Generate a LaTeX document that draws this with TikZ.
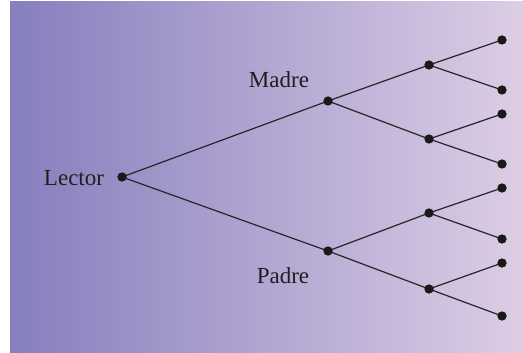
\documentclass[tikz,border=0pt]{standalone}
\usepackage{fontspec}
\setmainfont{Liberation Serif}
\begin{document}
\begin{tikzpicture}[x=1pt,y=-1pt,
  dot/.style={circle,fill=black!90,inner sep=0pt,minimum size=9pt},
  lbl/.style={inner sep=0pt,font=\fontsize{23}{27}\selectfont,text=black!88},
  edge/.style={draw=black!85,line width=1.2pt}]
\useasboundingbox (0,0) rectangle (523,353);
\shade[left color={rgb,255:red,134;green,127;blue,190},right color={rgb,255:red,221;green,205;blue,229}] (10,2) rectangle (523,353);
\node[dot] (r) at (122,177) {};
\node[dot] (m) at (328,101) {};
\node[dot] (p) at (328,251) {};
\node[dot] (a) at (429,65) {};
\node[dot] (b) at (429,139) {};
\node[dot] (c) at (429,213) {};
\node[dot] (d) at (429,289) {};
\node[dot] (l1) at (502,40) {};
\node[dot] (l2) at (502,90) {};
\node[dot] (l3) at (502,114) {};
\node[dot] (l4) at (502,164) {};
\node[dot] (l5) at (502,188) {};
\node[dot] (l6) at (502,239) {};
\node[dot] (l7) at (502,263) {};
\node[dot] (l8) at (502,316) {};
\node[lbl] (tl) at (74,178) {Lector};
\node[lbl] (tm) at (279,80) {Madre};
\node[lbl] (tp) at (283,276) {Padre};
\draw[edge] (r.center) -- (m.center);
\draw[edge] (r.center) -- (p.center);
\draw[edge] (m.center) -- (a.center);
\draw[edge] (m.center) -- (b.center);
\draw[edge] (p.center) -- (c.center);
\draw[edge] (p.center) -- (d.center);
\draw[edge] (a.center) -- (l1.center);
\draw[edge] (a.center) -- (l2.center);
\draw[edge] (b.center) -- (l3.center);
\draw[edge] (b.center) -- (l4.center);
\draw[edge] (c.center) -- (l5.center);
\draw[edge] (c.center) -- (l6.center);
\draw[edge] (d.center) -- (l7.center);
\draw[edge] (d.center) -- (l8.center);
\foreach \n in {r,m,p,a,b,c,d,l1,l2,l3,l4,l5,l6,l7,l8} \fill[black!90] (\n) circle (4.5);
\end{tikzpicture}
\end{document}
